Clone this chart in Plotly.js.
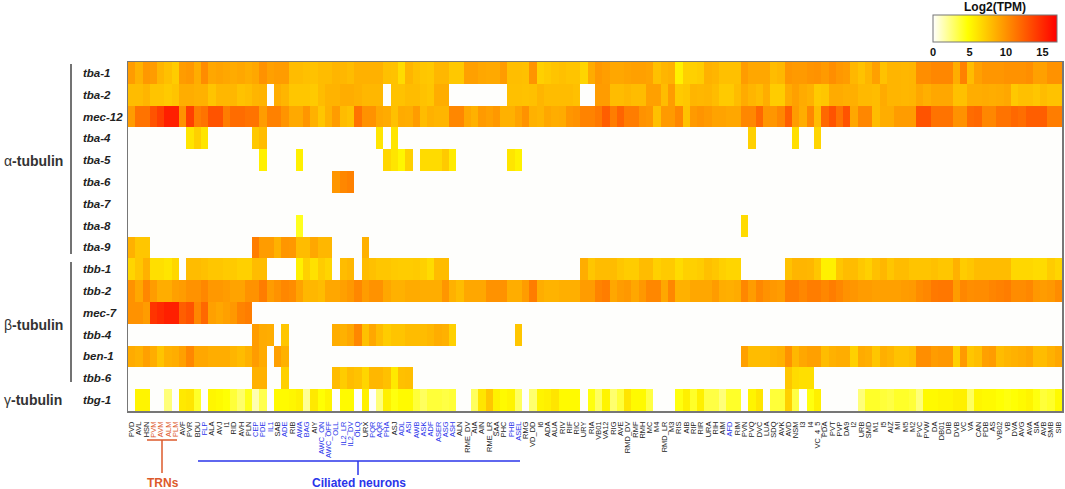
<!DOCTYPE html>
<html><head><meta charset="utf-8">
<script src="https://cdn.plot.ly/plotly-3.0.1.min.js"></script>
<style>html,body{margin:0;padding:0;background:#fff}#c{width:1065px;height:489px}</style>
</head><body><div id="c"></div>
<script>
const _ = null;
const neurons = ["PVD","AVL","HSN","PVM","AVM","ALM","PLM","AVF","PVR","BDU","FLP","ALA","AVJ","I1","RID","AVH","PLN","CEP","PDE","IL1","SAB","ADE","RIB","AWA","BAG","AIY","AWC_ON","AWC_OFF","OLL","IL2_LR","IL2_DV","OLQ","URX","PQR","AQR","PHA","ASJ","ADL","ASI","AWB","ASK","ADF","ASER","ASG","ASH","ALN","RME_DV","AIA","AIN","RME_LR","SAA","PHC","PHB","ASEL","RMG","VD_DD","I6","ADA","AUA","RIV","RIF","RIC","URY","RIA","VB01","VA12","RIG","AVE","RMD_DV","RMF","RMH","MC","M4","RMD_LR","M3","RIS","AIB","RIP","RIR","URA","RIH","AIM","AFD","RIM","PVN","PVQ","DVC","LUA","SDQ","AVK","AVD","NSM","I3","I4","VC_4_5","PDA","PVT","PVP","DA9","I2","URB","SMD","M1","I5","AIZ","MI","M5","M2","PVC","PVW","DA","DB01","DIB","DVB","VC","VA","CAN","PDB","AS","VB02","VB","DVA","AVG","AVA","SIA","AVB","SMB","SIB"];
const trnNeurons = ["PVM","AVM","ALM","PLM"];
const ciliatedNeurons = ["FLP","CEP","PDE","IL1","ADE","AWA","BAG","AWC_ON","AWC_OFF","OLL","IL2_LR","IL2_DV","OLQ","PQR","AQR","PHA","ADL","ASI","AWB","ASK","ADF","ASER","ASG","ASH","PHB","ASEL","AFD"];
const genes = ["tba-1","tba-2","mec-12","tba-4","tba-5","tba-6","tba-7","tba-8","tba-9","tbb-1","tbb-2","mec-7","tbb-4","ben-1","tbb-6","tbg-1"];

const tba1 = [9.5,8.5,9.7,9.5,8.3,7.8,7.2,9.5,9.7,8.7,
10.3,9,9.2,9,8.8,9,8.7,9,10,9.3,
9.5,9.5,8,8,7.8,7.7,8,8,8.3,8.2,
8,8.5,8.5,8.5,8.5,7.8,7.7,6.5,8.3,7.8,
7.5,7.4,8.2,8.2,7.4,7.4,9.3,9.3,9,8.9,
8.9,9.5,7.9,7.9,7.8,9.9,7,7.3,7.6,7.8,
7.6,7.6,6.8,8.8,9.7,9.4,9,9,9.2,9.3,
9.3,9.2,7.8,8.3,8.5,5.5,7,7,7.2,8.5,
8.3,7.8,7.8,7.8,9.5,9,9,9,8,8.2,
9.8,9.6,9.6,9.9,10,9.6,10.2,9.7,9.5,8.2,
7.7,8.3,9.3,7.7,8.3,8.3,8.2,8.3,10.2,10.2,
10.5,10.5,10.5,8.7,10.8,8,9.3,9.8,9.8,9.8,
10,10,10,10.2,9.3,9.3,10,10];
const tba2 = [8,8,8.3,7.6,7.6,7.3,7.6,8.7,8.7,8.5,
8.5,7.6,8.2,8.2,8.2,7.7,7.9,8.3,8.4,_,
8.7,8.3,7.5,7.5,7.5,7.3,8,8.4,8.4,8.7,
8.7,8.5,8.2,8.2,8.2,_,7.7,7.7,8,8,
7.7,7.5,8.7,8.7,_,_,_,_,_,_,
_,_,7.8,7.8,7.7,7.8,8.3,8,8,8,
8,7.8,_,_,9.5,9.5,8,8,8.2,8,
8,9.3,9.3,8,9.5,7.3,7.5,8.3,8.2,8.3,
8,7.3,7.3,8,8.8,8.3,8,8.7,7.2,7.2,
8.8,9.3,8.8,8.5,7.3,7.5,8.8,8.8,8.6,8.6,
8.1,8.1,8,8.8,8.3,8.3,8.2,8.3,9,8.6,
9,9,9,7.8,7.8,8.7,8.7,8.8,8.7,8.8,
9,7.4,7.8,7.8,7.5,8,7.7,7.7];
const mec12 = [9.5,11.5,11.5,13,14,15.5,15.5,10,14,11,
11.5,13,13,11,11.8,11.8,11.5,11.5,9.5,10.8,
10.8,9.9,8.9,8.9,9.8,8.5,7.5,8.5,9.5,8,
7.7,11.5,10,10,9,8.8,7.8,8.8,8.7,9.5,
8,8.5,8.3,8.3,10.5,10.5,9,8.5,9.6,9.3,
9.7,8.5,8.5,9.2,10,8.5,8.3,9,8.7,8.8,
9.8,10,10.7,10.7,11.2,12.5,11,12.2,11,11,
10,9.8,7.8,9.6,9.6,10.5,7.7,9.6,9.9,9.6,
9.2,9.2,9,9,10.5,10.5,12,9.8,9.8,10.5,
12.5,9.5,8.7,10.5,8,12,13,11.5,13,9,
10.5,10.5,8,8.7,8.7,9.5,9.5,9.5,13,13,
11.5,11.5,11.5,10,10,11.8,12,10.5,10.5,11.5,
11.5,12,11.7,12.5,12.5,12.5,11,11];
const tba4 = [_,_,_,_,_,_,_,_,6,7,
6,_,_,_,_,_,_,7.4,8,_,
_,_,_,_,_,_,_,_,_,_,
_,_,_,_,6,_,6,_,_,_,
_,_,_,_,_,_,_,_,_,_,
_,_,_,_,_,_,_,_,_,_,
_,_,_,_,_,_,_,_,_,_,
_,_,_,_,_,_,_,_,_,_,
_,_,_,_,_,7,_,_,_,_,
_,6.3,_,_,6.8,_,_,_,_,_,
_,_,_,_,_,_,_,_,_,_,
_,_,_,_,_,_,_,_,_,_,
_,_,_,_,_,_,_,_];
const tba5 = [_,_,_,_,_,_,_,_,_,_,
_,_,_,_,_,_,_,_,5.5,_,
_,_,_,5.5,_,_,_,_,_,_,
_,_,_,_,_,6.7,6,5.2,7,_,
6.5,6.5,6.5,7.3,5.7,_,_,_,_,_,
_,_,6,5.4,_,_,_,_,_,_,
_,_,_,_,_,_,_,_,_,_,
_,_,_,_,_,_,_,_,_,_,
_,_,_,_,_,_,_,_,_,_,
_,_,_,_,_,_,_,_,_,_,
_,_,_,_,_,_,_,_,_,_,
_,_,_,_,_,_,_,_,_,_,
_,_,_,_,_,_,_,_];
const tba6 = [_,_,_,_,_,_,_,_,_,_,
_,_,_,_,_,_,_,_,_,_,
_,_,_,_,_,_,_,_,9.8,10.5,
10.8,_,_,_,_,_,_,_,_,_,
_,_,_,_,_,_,_,_,_,_,
_,_,_,_,_,_,_,_,_,_,
_,_,_,_,_,_,_,_,_,_,
_,_,_,_,_,_,_,_,_,_,
_,_,_,_,_,_,_,_,_,_,
_,_,_,_,_,_,_,_,_,_,
_,_,_,_,_,_,_,_,_,_,
_,_,_,_,_,_,_,_,_,_,
_,_,_,_,_,_,_,_];
const tba7 = [_,_,_,_,_,_,_,_,_,_,
_,_,_,_,_,_,_,_,_,_,
_,_,_,_,_,_,_,_,_,_,
_,_,_,_,_,_,_,_,_,_,
_,_,_,_,_,_,_,_,_,_,
_,_,_,_,_,_,_,_,_,_,
_,_,_,_,_,_,_,_,_,_,
_,_,_,_,_,_,_,_,_,_,
_,_,_,_,_,_,_,_,_,_,
_,_,_,_,_,_,_,_,_,_,
_,_,_,_,_,_,_,_,_,_,
_,_,_,_,_,_,_,_,_,_,
_,_,_,_,_,_,_,_];
const tba8 = [_,_,_,_,_,_,_,_,_,_,
_,_,_,_,_,_,_,_,_,_,
_,_,_,4.2,_,_,_,_,_,_,
_,_,_,_,_,_,_,_,_,_,
_,_,_,_,_,_,_,_,_,_,
_,_,_,_,_,_,_,_,_,_,
_,_,_,_,_,_,_,_,_,_,
_,_,_,_,_,_,_,_,_,_,
_,_,_,_,6.5,_,_,_,_,_,
_,_,_,_,_,_,_,_,_,_,
_,_,_,_,_,_,_,_,_,_,
_,_,_,_,_,_,_,_,_,_,
_,_,_,_,_,_,_,_];
const tba9 = [8.5,7.5,7.5,_,_,_,_,_,_,_,
_,_,_,_,_,_,_,11,9.5,9.5,
8.5,9.8,9.7,8,8,9,8.2,8.2,_,_,
_,_,8.5,_,_,_,_,_,_,_,
_,_,_,_,_,_,_,_,_,_,
_,_,_,_,_,_,_,_,_,_,
_,_,_,_,_,_,_,_,_,_,
_,_,_,_,_,_,_,_,_,_,
_,_,_,_,_,_,_,_,_,_,
_,_,_,_,_,_,_,_,_,_,
_,_,_,_,_,_,_,_,_,_,
_,_,_,_,_,_,_,_,_,_,
_,_,_,_,_,_,_,_];
const tbb1 = [6.8,7.5,8.5,6.3,6.3,6,6.7,_,8,8,
7.8,7.5,7.5,7.3,7.3,7,7,8,8,_,
_,_,_,5.5,7,6.2,7.2,6.8,_,8,
8.2,_,8,7.8,7.5,7.5,7.3,7.2,7.2,7.3,
7,6.5,8,8,_,_,_,_,_,_,
_,_,_,_,_,_,_,_,_,_,
_,_,8.7,7.5,8,8,8,7.5,7.2,7.2,
8,8,7,7.3,7.3,6.5,7,7,7.2,7.8,
7.5,7,6.8,6.8,_,_,_,_,_,_,
7.7,8.3,8.3,8.2,7.5,5.5,5.5,7.5,8,8,
7.4,7,7.8,8.2,7.5,8,8,7.6,7.6,7.6,
7.8,7.5,7.5,8.5,7.2,7.5,8,8,8,8,
8,6.7,6.7,6.7,6.5,6.5,7.2,6.8];
const tbb2 = [10,9,10.5,9.5,8.7,8.7,9.3,9.5,10,10,
10.5,9.7,9.7,9.5,9.2,9.2,10,10,11,9.5,
10,10.5,10.3,9.2,8.2,8.2,8,9,9,9.3,
9.7,10.5,9.5,10,10,9,8.5,8.5,8.8,8.8,
8.7,8.7,8.7,9.8,8.5,8,9,9,9,10,
10,10,8.7,8.7,9.5,11,8.7,8.4,8.4,8.6,
8.6,8.6,9.5,9.5,10.7,11,9,9.5,9.7,9,
9.7,10.5,10.5,9,10.5,8.5,8.5,9,9,9,
9.5,8.7,8.6,8.8,10.5,9.5,10.5,10,9.7,9.5,
11,11,10.5,11,11,10.5,11,10.5,10,9.8,
9.5,9.5,9.3,9.3,9.3,9.3,9.5,9.6,10.3,10.5,
11.2,11.3,11.3,9.5,10.5,10.2,10.3,10.3,10.6,10.8,
11,10.3,10.3,10.5,9.7,9.5,9.7,10.3];
const mec7 = [10,10,9.5,14.5,15,15.5,15.5,12.5,13,10.5,
12,9.3,9,9.3,9.7,10.7,11,_,_,_,
_,_,_,_,_,_,_,_,_,_,
_,_,_,_,_,_,_,_,_,_,
_,_,_,_,_,_,_,_,_,_,
_,_,_,_,_,_,_,_,_,_,
_,_,_,_,_,_,_,_,_,_,
_,_,_,_,_,_,_,_,_,_,
_,_,_,_,_,_,_,_,_,_,
_,_,_,_,_,_,_,_,_,_,
_,_,_,_,_,_,_,_,_,_,
_,_,_,_,_,_,_,_,_,_,
_,_,_,_,_,_,_,_];
const tbb4 = [_,_,_,_,_,_,_,_,_,_,
_,_,_,_,_,_,_,9.5,8.8,8.7,
_,7.5,_,_,_,_,_,_,8.7,8.5,
9,10.5,7.8,9,8,7.2,7.6,7.6,8,8,
8,8.2,8.7,8.5,7,_,_,_,_,_,
_,_,_,7.5,_,_,_,_,_,_,
_,_,_,_,_,_,_,_,_,_,
_,_,_,_,_,_,_,_,_,_,
_,_,_,_,_,_,_,_,_,_,
_,_,_,_,_,_,_,_,_,_,
_,_,_,_,_,_,_,_,_,_,
_,_,_,_,_,_,_,_,_,_,
_,_,_,_,_,_,_,_];
const ben1 = [8.8,8.5,9.3,8.7,7.6,8.5,8.7,9.3,10.5,9,
9,8.7,8.7,8.7,8.3,8,8.5,9.5,8.8,_,
9.3,8.5,_,_,_,_,_,_,_,_,
_,_,_,_,_,_,_,_,_,_,
_,_,_,_,_,_,_,_,_,_,
_,_,_,_,_,_,_,_,_,_,
_,_,_,_,_,_,_,_,_,_,
_,_,_,_,_,_,_,_,_,_,
_,_,_,_,9.3,8,8,8,8.3,8.5,
10,8.2,9,9.3,9.3,8,8.5,8.7,8.7,7,
8.8,8.6,7.5,8.6,8.3,7.7,7.7,8,10.2,10.2,
9.5,9.7,9.7,7,9.6,7.5,7.9,9.3,9.5,8,
8.3,8.5,8.7,9,8,8,8.5,9];
const tbb6 = [_,_,_,_,_,_,_,_,_,_,
_,_,_,_,_,_,_,8.5,8.5,_,
_,7,_,_,_,_,_,_,8,7.2,
8,7.7,6.8,8.2,8.2,7.8,5.8,7.8,7.9,_,
_,_,_,_,_,_,_,_,_,_,
_,_,_,_,_,_,_,_,_,_,
_,_,_,_,_,_,_,_,_,_,
_,_,_,_,_,_,_,_,_,_,
_,_,_,_,_,_,_,_,_,_,
7.5,6.5,6.3,6.3,_,_,_,_,_,_,
_,_,_,_,_,_,_,_,_,_,
_,_,_,_,_,_,_,_,_,_,
_,_,_,_,_,_,_,_];
const tbg1 = [_,5.3,5.3,_,_,2.5,_,5.8,6,4,
_,5.2,5,4.7,3.7,2.8,4.3,1.5,3.3,_,
5,5,5.2,5.5,2,5.8,4.7,5.3,_,5,
5,_,5.5,_,2.5,5.5,4.5,5,5,3.7,
3,3.7,3.7,3.5,3.7,_,_,3,6,7.5,
5.5,5,5.3,3,_,2.7,5.3,5.5,6,5,
5,5,_,4.5,3,5.3,2.7,3.7,6,5,
5,3.5,_,_,_,4.5,5.5,4,5.5,3.5,
3.5,2.5,4,4,_,5.3,6,_,3.7,3.7,
7,3.5,_,4.5,5.5,_,_,_,_,_,
2.5,4,4,3.7,3.5,4,4,3.7,2.5,5,
5,5.2,5.2,5.5,5.5,3,5.2,5,5,4.7,
4.5,4.7,5,5.3,4.5,3.7,4,5];

const groupLabels = ["α-tubulin","β-tubulin","γ-tubulin"];
const colorbarTitle = "Log2(TPM)";
const trnColor = "#dd5a2b", cilColor = "#2a35ea", frame = "#777777", ink = "#333333";
const W = 1065, H = 489, L = 128, R = 3, T = 62, B = 78;
const PW = W - L - R, PH = H - T - B;
const px = v => (v - L) / PW;
const py = v => 1 - (v - T) / PH;

const ticktext = neurons.map(n =>
  trnNeurons.includes(n) ? `<span style="color:${trnColor}">${n}</span>` :
  ciliatedNeurons.includes(n) ? `<span style="color:${cilColor}">${n}</span>` : n);

const z = [tba1,tba2,mec12,tba4,tba5,tba6,tba7,tba8,tba9,tbb1,tbb2,mec7,tbb4,ben1,tbb6,tbg1];

const trace = {
  type: "heatmap", z, x: neurons.map((_n,i)=>i), y: genes.map((_g,i)=>i),
  zmin: 0, zmax: 17, hoverongaps: false, xgap: 0, ygap: 0,
  colorscale: [[0,"#ffffff"],[0.28,"#ffff00"],[1,"#ff0000"]],
  colorbar: {
    orientation: "h", thickness: 27, thicknessmode: "pixels", len: 124, lenmode: "pixels",
    xref: "paper", yref: "paper", x: px(933), xanchor: "left", y: py(55), yanchor: "bottom",
    xpad: 0, ypad: 0, outlinecolor: frame, outlinewidth: 1, tickvals: [0,5,10,15], ticks: "",
    tickfont: {family: "Liberation Sans, Arial, sans-serif", size: 11, color: "#111", weight: "bold"}
  }
};

const annots = genes.map((g,i)=>({
  xref:"paper", yref:"y", x:px(81), y:i, xanchor:"left", yanchor:"middle", showarrow:false,
  text:`<b><i>${g}</i></b>`, font:{family:"Liberation Sans, Arial, sans-serif", size:11.5, color:"#222"}
}));
[[161],[325],[400]].forEach((p,i)=>annots.push({
  xref:"paper", yref:"paper", x:px(2), y:py(p[0]), xanchor:"left", yanchor:"middle", showarrow:false,
  text:`<span style="font-weight:normal">${groupLabels[i][0]}</span><b>${groupLabels[i].slice(1)}</b>`,
  font:{family:"Liberation Sans, Arial, sans-serif", size:14, color:ink}
}));
annots.push({xref:"paper",yref:"paper",x:px(995),y:py(7),xanchor:"center",yanchor:"middle",showarrow:false,
  text:`<b>${colorbarTitle}</b>`,font:{family:"Liberation Sans, Arial, sans-serif",size:12,color:"#111"}});
annots.push({xref:"paper",yref:"paper",x:px(163),y:py(483),xanchor:"center",yanchor:"middle",showarrow:false,
  text:"<b>TRNs</b>",font:{family:"Liberation Sans, Arial, sans-serif",size:12,color:trnColor}});
annots.push({xref:"paper",yref:"paper",x:px(359),y:py(483),xanchor:"center",yanchor:"middle",showarrow:false,
  text:"<b>Ciliated neurons</b>",font:{family:"Liberation Sans, Arial, sans-serif",size:12,color:cilColor}});

const seg = (x0,y0,x1,y1,color,width)=>({type:"line",xref:"paper",yref:"paper",layer:"above",
  x0:px(x0),y0:py(y0),x1:px(x1),y1:py(y1),line:{color,width}});
const shapes = [
  seg(71,64,71,254,"#444444",1.5), seg(71,262,71,382,"#444444",1.5),
  seg(147,440,177,440,trnColor,1.5), seg(162,440,162,473,trnColor,1.5),
  seg(198,461,520,461,cilColor,1.5), seg(358,461,358,475,cilColor,1.5)
];

const layout = {
  width: W, height: H, margin: {l:L, r:R, t:T, b:B, pad:0, autoexpand:false},
  paper_bgcolor: "#fff", plot_bgcolor: "#fefefc", showlegend: false, annotations: annots, shapes,
  xaxis: {type:"linear", range:[-0.5,127.5], tickmode:"array", tickvals:neurons.map((_n,i)=>i), ticktext,
    tickangle:-90, ticks:"", ticklabelstandoff:6, showgrid:false, zeroline:false, showline:true, mirror:true,
    linecolor:frame, linewidth:1.5,
    tickfont:{family:"Liberation Sans, Arial, sans-serif", size:7.5, color:"#1a1a1a"}},
  yaxis: {type:"linear", range:[15.5,-0.5], showticklabels:false, ticks:"", showgrid:false, zeroline:false,
    showline:true, mirror:true, linecolor:frame, linewidth:1.5}
};
Plotly.newPlot("c",[trace],layout,{displayModeBar:false,staticPlot:true});
</script></body></html>
